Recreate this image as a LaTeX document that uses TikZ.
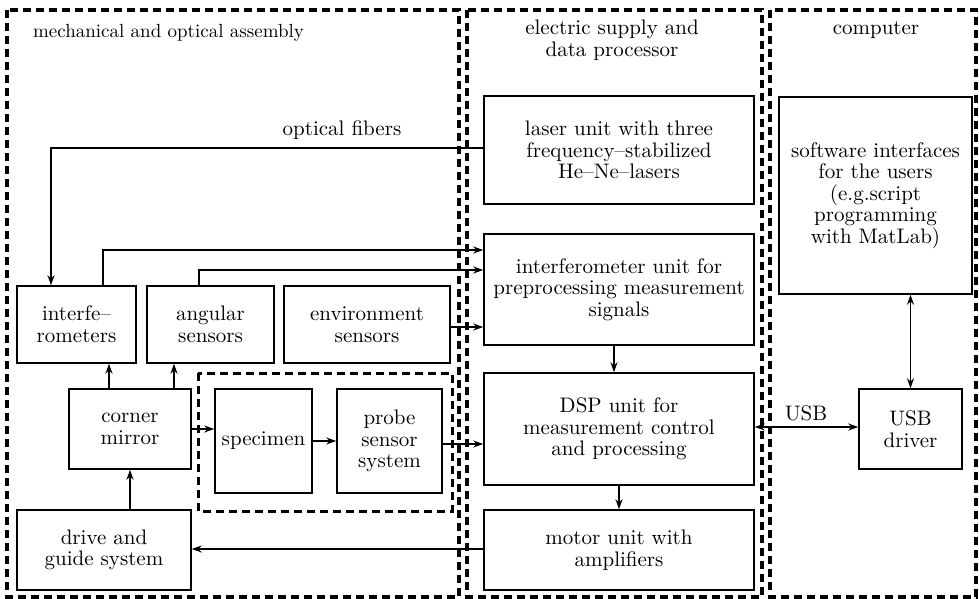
\documentclass[tikz,border=0pt]{standalone}
\usetikzlibrary{arrows.meta}

\begin{document}
\begin{tikzpicture}[x=0.5pt, y=-0.5pt,
    font=\fontsize{10.5}{10.8}\selectfont,
    box/.style = {draw=black, line width=0.75pt, align=center, inner sep=1pt},
    frame/.style = {draw=black, line width=1.6pt, dash pattern=on 4pt off 2.5pt},
    line/.style = {line width=0.75pt, -{Stealth[length=5pt, width=3.5pt]}},
    both/.style = {line width=0.75pt, {Stealth[length=5pt, width=3.5pt]}-{Stealth[length=5pt, width=3.5pt]}}]
    \useasboundingbox (0,0) rectangle (979,599);

    % the three parts
    \draw[frame] (7,10) rectangle (459,597);
    \draw[frame] (467,10) rectangle (762,597);
    \draw[frame] (770,10) rectangle (976,597);
    \draw[frame, line width=1.5pt] (198,373) rectangle (452,511);

    \node[anchor=west, font=\fontsize{9.5}{10}\selectfont] (mech) at (26,33) {mechanical and optical assembly};
    \node[align=center] (elec) at (612,40) {electric supply and\\data processor};
    \node (comp) at (876,30) {computer};

    % mechanical and optical assembly
    \node[box, minimum width=59.5pt, minimum height=38.5pt] (ifm) at (76.5,324.5) {interfe--\\rometers};
    \node[box, minimum width=63.5pt, minimum height=38.5pt] (ang) at (210.5,324.5) {angular\\sensors};
    \node[box, minimum width=83pt, minimum height=38.5pt] (env) at (367,324.5) {environment\\sensors};
    \node[box, minimum width=61pt, minimum height=40pt] (mirror) at (130,429) {corner\\mirror};
    \node[box, minimum width=48.5pt, minimum height=52pt] (spec) at (263.5,441) {specimen};
    \node[box, minimum width=52.5pt, minimum height=52pt] (probe) at (389.5,441) {probe\\sensor\\system};
    \node[box, minimum width=87pt, minimum height=40pt] (drive) at (104,550) {drive and\\guide system};

    % electric supply and data processor
    \node[box, minimum width=135pt, minimum height=54pt] (laser) at (619,150) {laser unit with three\\frequency--stabilized\\He--Ne--lasers};
    \node[box, minimum width=135pt, minimum height=55.5pt] (ifu) at (619,289.5) {interferometer unit for\\preprocessing measurement\\signals};
    \node[box, minimum width=135pt, minimum height=56pt] (dsp) at (619,429) {DSP unit for\\measurement control\\and processing};
    \node[box, minimum width=135pt, minimum height=40pt] (motor) at (619,550) {motor unit with\\amplifiers};

    % computer
    \node[box, minimum width=96.5pt, minimum height=98.5pt] (soft) at (875.5,195.5) {software interfaces\\for the users\\(e.g.script\\programming\\with MatLab)};
    \node[box, minimum width=51.5pt, minimum height=40pt] (usb) at (910.5,429) {USB\\driver};

    % connections
    \draw[line] ([yshift=1pt]laser.west) -| ([xshift=-12.75pt]ifm.north);
    \node (fibers) at (342,130) {optical fibers};
    \draw[line] ([xshift=13.25pt]ifm.north) |- ([yshift=19.75pt]ifu.west);
    \draw[line] ([xshift=-5.75pt]ang.north) |- ([yshift=9.75pt]ifu.west);
    \draw[line] ([yshift=-1.25pt]env.east) -- ([yshift=-1.25pt]env.east -| ifu.west);
    \draw[line] ([xshift=-2.5pt]ifu.south) -- ([xshift=-2.5pt]dsp.north);
    \draw[line] (dsp.south) -- (motor.north);
    \draw[line] ([yshift=0.5pt]motor.west) -- ([yshift=0.5pt]motor.west -| drive.east);
    \draw[line] (mirror.south |- drive.north) -- (mirror.south);
    \draw[line] ([xshift=-10.5pt]mirror.north) -- ([xshift=-10.5pt]mirror.north |- ifm.south);
    \draw[line] ([xshift=22pt]mirror.north) -- ([xshift=22pt]mirror.north |- ang.south);
    \draw[line] (mirror.east) -- (mirror.east -| spec.west);
    \draw[line] (spec.east) -- (probe.west);
    \draw[line] ([yshift=-1.5pt]probe.east) -- ([yshift=-1.5pt]probe.east -| dsp.west);
    \draw[both] ([yshift=1pt]usb.west -| dsp.east) -- ([yshift=1pt]usb.west);
    \node (usblabel) at (806,413) {USB};
    \draw[both] (usb.north |- soft.south) -- (usb.north);
\end{tikzpicture}
\end{document}
